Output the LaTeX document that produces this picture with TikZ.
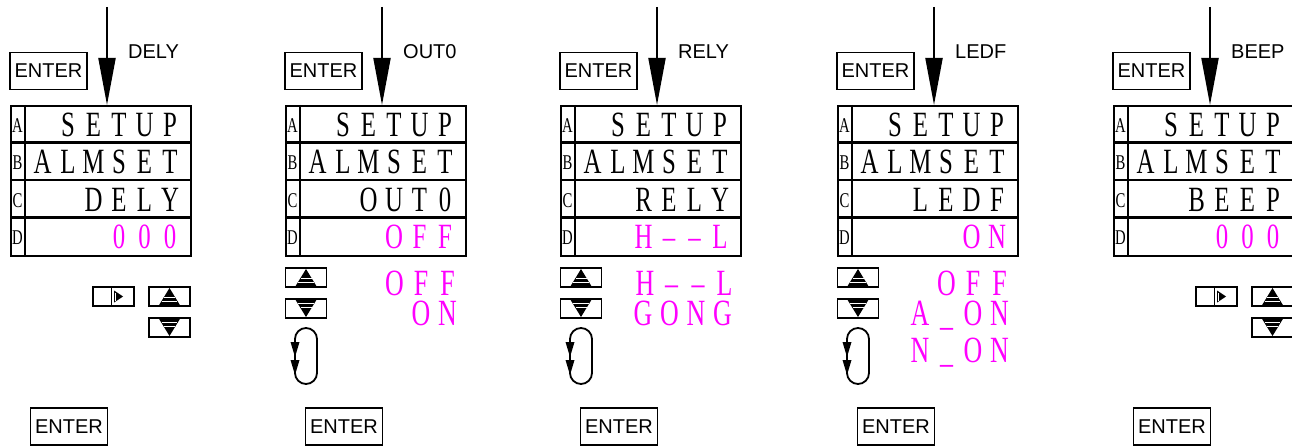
\documentclass[tikz,border=0pt]{standalone}
\usepackage{fontspec}
\setmainfont{Liberation Sans}
\newfontfamily\lcdf[FakeStretch=0.7]{Liberation Serif}
\usetikzlibrary{arrows.meta}
\definecolor{mag}{RGB}{255,0,255}
\newlength\lcdpitch
\setlength\lcdpitch{25.5pt}
\def\lcd#1{\lcdaux#1\relax}
\def\lcdaux#1{\ifx#1\relax\else\makebox[\lcdpitch]{#1}\expandafter\lcdaux\fi}
\tikzset{
  keybox/.style={draw, line width=1.6pt, minimum width=77pt, minimum height=37pt, inner sep=0pt, font=\fontsize{20}{20}\selectfont},
  toplbl/.style={anchor=west, inner sep=0pt, font=\fontsize{20}{20}\selectfont},
  disp/.style={draw, line width=2.2pt, minimum width=180pt, minimum height=150pt, inner sep=0pt, anchor=north west},
  rowline/.style={line width=2.2pt},
  rowtxt/.style={anchor=base east, inner sep=0pt, font=\lcdf\fontsize{35.5}{35.5}\selectfont},
  opttxt/.style={anchor=base east, inner sep=0pt, text=mag, text height=24pt, text depth=0pt, font=\lcdf\fontsize{37}{37}\selectfont},
  abcd/.style={anchor=base, inner sep=0pt, font=\lcdf\fontsize{21}{21}\selectfont},
  arrowline/.style={line width=2pt, -{Triangle[length=47pt,width=17pt]}},
  btn/.style={draw, line width=1.6pt, minimum width=41pt, minimum height=19pt, inner sep=0pt},
  loopline/.style={line width=1.8pt, rounded corners=11pt},
}
% panel: #1 name, #2 left x, #3 label, #4 row C, #5 row D
\newcommand\panel[5]{%
  \begin{scope}[shift={(#2,0)}]
    \node[keybox] (#1ent) at (38.5,71) {ENTER};
    \node[toplbl] (#1lbl) at (118,52) {#3};
    \node[disp] (#1disp) at (0,105) {};
    \coordinate (#1top) at (97,7);
    \draw[arrowline] (#1top) -- (#1disp.north -| #1top);
    \draw[rowline] (0,142.5) -- (180,142.5);
    \draw[rowline] (0,180) -- (180,180);
    \draw[rowline] (0,217.5) -- (180,217.5);
    \draw[rowline] (15,105) -- (15,255);
    \node[abcd] (#1la) at (7.5,132.5) {A};
    \node[abcd] (#1lb) at (7.5,170) {B};
    \node[abcd] (#1lc) at (7.5,207.5) {C};
    \node[abcd] (#1ld) at (7.5,245) {D};
    \node[rowtxt] (#1ra) at (173,136.5) {\lcd{SETUP}};
    \node[rowtxt] (#1rb) at (173,174) {\lcd{ALMSET}};
    \node[rowtxt] (#1rc) at (173,211.5) {#4};
    \node[rowtxt, text=mag] (#1rd) at (173,249) {#5};
    \node[keybox] (#1ent2) at (59,426.5) {ENTER};
  \end{scope}}
% buttons
\newcommand\upbtn[3]{%
  \node[btn] (#1) at (#2,#3) {};
  \fill (#2,#3-8.5) -- (#2-11,#3+9.5) -- (#2+11,#3+9.5) -- cycle;
  \draw[white, line width=1.2pt] (#2-5.5,#3+1) -- (#2+5.5,#3+1);
  \draw[white, line width=1.2pt] (#2-7.8,#3+5) -- (#2+7.8,#3+5);}
\newcommand\dnbtn[3]{%
  \node[btn] (#1) at (#2,#3) {};
  \fill (#2,#3+8.5) -- (#2-11,#3-9.5) -- (#2+11,#3-9.5) -- cycle;
  \draw[white, line width=1.2pt] (#2-5.5,#3-1) -- (#2+5.5,#3-1);
  \draw[white, line width=1.2pt] (#2-7.8,#3-5) -- (#2+7.8,#3-5);}
\newcommand\rtbtn[3]{%
  \node[btn] (#1) at (#2,#3) {};
  \draw[line width=1.4pt] (#2-2,#3-8.5) -- (#2-2,#3+8.5);
  \fill (#2+0.5,#3-6) -- (#2+9.5,#3) -- (#2+0.5,#3+6) -- cycle;
  \draw[white, line width=0.8pt] (#2+1.5,#3-4) -- (#2+1.5,#3+4);}
\newcommand\loopsym[1]{%
  \draw[loopline] (10,328) rectangle (32,384);
  \fill (5.5,342) -- (14.5,342) -- (10,357) -- cycle;
  \fill (5.5,360) -- (14.5,360) -- (10,375) -- cycle;}
\begin{document}
\begin{tikzpicture}[x=1pt,y=-1pt]
\useasboundingbox (0,0) rectangle (1292,446);
\panel{pa}{10}{DELY}{\lcd{DELY}}{\lcd{000}}
\panel{pb}{285}{OUT0}{\lcd{OUT0}}{\lcd{OFF}}
\panel{pc}{560}{RELY}{\lcd{RELY}}{\lcd{H{\textendash}{\textendash}L}}
\panel{pd}{837}{LEDF}{\lcd{LEDF}}{\lcd{ON}}
\panel{pe}{1113}{BEEP}{\lcd{BEEP}}{\lcd{000}}
% panel 1 buttons
\begin{scope}[shift={(10,0)}]
  \rtbtn{part}{103.5}{296.5}
  \upbtn{paup}{159.5}{296.5}
  \dnbtn{padn}{159.5}{327.5}
\end{scope}
\begin{scope}[shift={(1113,0)}]
  \rtbtn{pert}{103.5}{296.5}
  \upbtn{peup}{159.5}{296.5}
  \dnbtn{pedn}{159.5}{327.5}
\end{scope}
% panel 2
\begin{scope}[shift={(285,0)}]
  \upbtn{pbup}{21}{277.5}
  \dnbtn{pbdn}{21}{308.5}
  \loopsym{pb}
  \setlength\lcdpitch{26.5pt}
  \node[opttxt] (pbo1) at (176,295) {\lcd{OFF}};
  \node[opttxt] (pbo2) at (176,325) {\lcd{ON}};
\end{scope}
% panel 3
\begin{scope}[shift={(560,0)}]
  \upbtn{pcup}{21}{277.5}
  \dnbtn{pcdn}{21}{308.5}
  \loopsym{pc}
  \setlength\lcdpitch{26.5pt}
  \node[opttxt] (pco1) at (178,295) {\lcd{H{\textendash}{\textendash}L}};
  \node[opttxt] (pco2) at (176,325) {\lcd{GONG}};
\end{scope}
% panel 4
\begin{scope}[shift={(837,0)}]
  \upbtn{pdup}{21}{277.5}
  \dnbtn{pddn}{21}{308.5}
  \loopsym{pd}
  \setlength\lcdpitch{26.5pt}
  \node[opttxt] (pdo1) at (176,295) {\lcd{OFF}};
  \node[opttxt] (pdo2) at (176,325) {\lcd{A\_ON}};
  \node[opttxt] (pdo3) at (176,362) {\lcd{N\_ON}};
\end{scope}
\end{tikzpicture}
\end{document}
